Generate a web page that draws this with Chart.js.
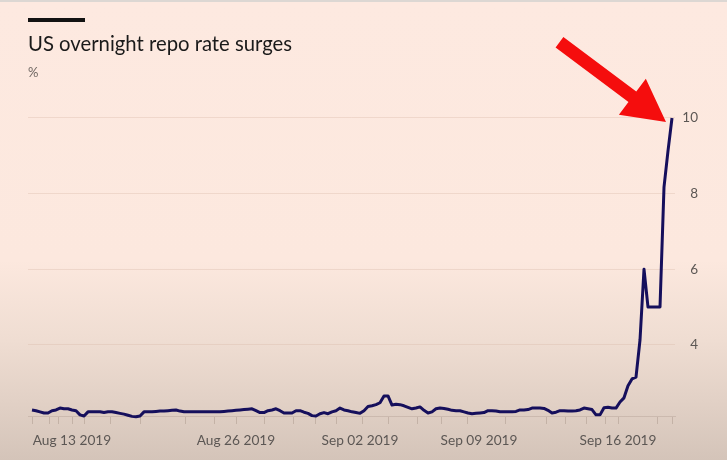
<!DOCTYPE html>
<html>
<head>
<meta charset="utf-8">
<script src="https://cdn.jsdelivr.net/npm/chart.js@4.4.1/dist/chart.umd.min.js"></script>
<style>
  html, body { margin: 0; padding: 0; }
  body {
    width: 727px; height: 460px; overflow: hidden;
    background: linear-gradient(to bottom,
      #dcd7d3 0px, #dcd7d3 2px,
      #fde9e0 2px, #fce8de 260px, #efddd2 340px, #e2d1c6 400px, #d4c4b9 460px);
  }
  #c { display: block; }
</style>
</head>
<body>
<canvas id="c" width="727" height="460"></canvas>
<script>
// Overnight repo rate (%), one value per observation, Aug 12 – Sep 17 2019
const repoRate = [
  2.28, 2.26, 2.23, 2.20, 2.20, 2.26, 2.28, 2.33, 2.31, 2.31,
  2.28, 2.26, 2.15, 2.12, 2.23, 2.23, 2.23, 2.23, 2.21, 2.23,
  2.23, 2.21, 2.19, 2.17, 2.14, 2.11, 2.10, 2.12, 2.23, 2.23,
  2.23, 2.24, 2.25, 2.25, 2.26, 2.27, 2.28, 2.25, 2.23, 2.23,
  2.23, 2.23, 2.23, 2.23, 2.23, 2.23, 2.23, 2.23, 2.24, 2.25,
  2.26, 2.27, 2.28, 2.29, 2.30, 2.31, 2.26, 2.21, 2.21, 2.26,
  2.28, 2.31, 2.26, 2.20, 2.20, 2.20, 2.26, 2.26, 2.22, 2.19,
  2.13, 2.12, 2.18, 2.21, 2.18, 2.23, 2.26, 2.33, 2.28, 2.26,
  2.23, 2.21, 2.19, 2.26, 2.37, 2.39, 2.42, 2.47, 2.65, 2.65,
  2.41, 2.43, 2.42, 2.39, 2.35, 2.31, 2.33, 2.36, 2.27, 2.20,
  2.23, 2.31, 2.33, 2.32, 2.30, 2.27, 2.26, 2.26, 2.23, 2.20,
  2.18, 2.19, 2.20, 2.21, 2.26, 2.26, 2.25, 2.23, 2.23, 2.23,
  2.23, 2.24, 2.28, 2.28, 2.29, 2.33, 2.33, 2.33, 2.32, 2.27,
  2.20, 2.22, 2.26, 2.26, 2.25, 2.25, 2.26, 2.28, 2.33, 2.31,
  2.29, 2.15, 2.15, 2.34, 2.35, 2.33, 2.33, 2.49, 2.60, 2.92,
  3.10, 3.15, 4.13, 6.00, 5.00, 5.00, 5.00, 5.00, 8.17, 9.13,
  10.00
];

// Day boundaries along the observation axis (small tick marks)
const tickAt = [0, 4.25, 6.5, 10, 13, 19.5, 27, 38.25, 45.5, 51, 58, 65.25, 70.75,
  76, 82.5, 89, 96.25, 102.25, 108.75, 118.25, 128.5, 133.25, 138.5, 143.25,
  146.5, 156.25, 160];

// Date labels and where they sit on the observation axis
const labelAt = [10, 51, 82, 111.75, 146.5];
const labelText = ['Aug 13 2019', 'Aug 26 2019', 'Sep 02 2019', 'Sep 09 2019', 'Sep 16 2019'];

// Value axis ticks (%)
const yTicks = [4, 6, 8, 10];

const FONT = 'Lato, "Open Sans", sans-serif';
const xTickValues = Array.from(new Set(tickAt.concat(labelAt))).sort((a, b) => a - b);

// Black rule above the headline and the red pointer to the final reading
const decorations = {
  id: 'decorations',
  beforeDraw(chart) {
    const ctx = chart.ctx;
    ctx.save();
    ctx.fillStyle = '#121212';
    ctx.fillRect(chart.options.layout.padding.left, 18, 57, 4);
    ctx.restore();
  },
  afterDatasetsDraw(chart) {
    const xs = chart.scales.x, ys = chart.scales.y;
    const last = repoRate.length - 1;
    const tx = xs.getPixelForValue(last) - 6;
    const ty = ys.getPixelForValue(repoRate[last]) + 4;
    const ang = Math.atan2(80, 107);
    const ux = Math.cos(ang), uy = Math.sin(ang);
    const nx = -uy, ny = ux;
    const headLen = 42, headHalf = 22.5, shaftHalf = 6.5, total = 133;
    const bx = tx - ux * headLen, by = ty - uy * headLen;
    const ex = tx - ux * total, ey = ty - uy * total;
    const ctx = chart.ctx;
    ctx.save();
    ctx.fillStyle = '#f50d0d';
    ctx.beginPath();
    ctx.moveTo(tx, ty);
    ctx.lineTo(bx + nx * headHalf, by + ny * headHalf);
    ctx.lineTo(bx + nx * shaftHalf, by + ny * shaftHalf);
    ctx.lineTo(ex + nx * shaftHalf, ey + ny * shaftHalf);
    ctx.lineTo(ex - nx * shaftHalf, ey - ny * shaftHalf);
    ctx.lineTo(bx - nx * shaftHalf, by - ny * shaftHalf);
    ctx.lineTo(bx - nx * headHalf, by - ny * headHalf);
    ctx.closePath();
    ctx.fill();
    ctx.restore();
  }
};

new Chart(document.getElementById('c'), {
  type: 'line',
  data: {
    datasets: [{
      data: repoRate.map((v, i) => ({ x: i, y: v })),
      borderColor: '#150f5c',
      borderWidth: 3,
      pointRadius: 0,
      tension: 0,
      clip: false,
      borderJoinStyle: 'round'
    }]
  },
  options: {
    responsive: false,
    devicePixelRatio: 1,
    animation: false,
    layout: { padding: { left: 28, right: 29, top: 0, bottom: 0 } },
    plugins: {
      legend: { display: false },
      tooltip: { enabled: false },
      title: {
        display: true,
        text: 'US overnight repo rate surges',
        align: 'start',
        color: '#1a1a1a',
        font: { family: FONT, size: 20.3, weight: 'normal', lineHeight: 1.2 },
        padding: { top: 32, bottom: 9 }
      },
      subtitle: {
        display: true,
        text: '%',
        align: 'start',
        color: '#6e6762',
        font: { family: FONT, size: 13, weight: 'normal', lineHeight: 1.2 },
        padding: { top: 0, bottom: 37 }
      }
    },
    scales: {
      x: {
        type: 'linear',
        min: -1,
        max: 160.75,
        afterBuildTicks: s => { s.ticks = xTickValues.map(v => ({ value: v })); },
        afterFit: s => { s.height = 44; },
        ticks: {
          autoSkip: false,
          maxRotation: 0,
          padding: 8,
          color: '#5c5754',
          font: { family: FONT, size: 13.7 },
          callback: v => { const k = labelAt.indexOf(v); return k >= 0 ? labelText[k] : ''; }
        },
        grid: {
          drawOnChartArea: false,
          tickLength: 8,
          color: c => (c.tick && tickAt.includes(c.tick.value)) ? 'rgba(150,130,118,0.35)' : 'transparent'
        },
        border: { display: true, color: 'rgba(170,150,138,0.35)', width: 1 }
      },
      y: {
        position: 'right',
        min: 2.12,
        max: 10,
        afterBuildTicks: s => { s.ticks = yTicks.map(v => ({ value: v })); },
        afterFit: s => { s.width = 23; },
        ticks: {
          padding: 7,
          crossAlign: 'far',
          color: '#5c5754',
          font: { family: FONT, size: 13.5 }
        },
        grid: { drawTicks: false, color: 'rgba(214,184,166,0.35)' },
        border: { display: false }
      }
    }
  },
  plugins: [decorations]
});
</script>
</body>
</html>
